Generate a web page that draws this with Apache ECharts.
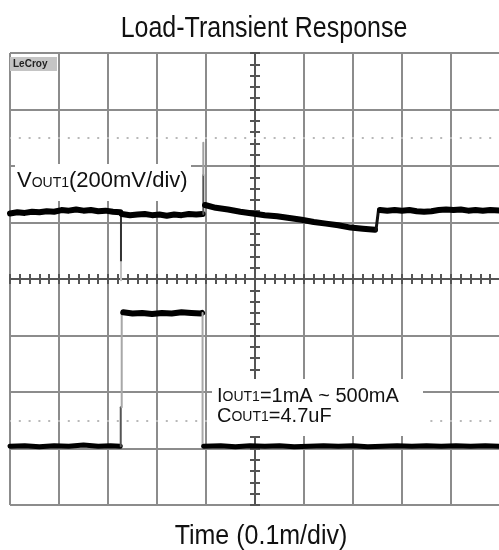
<!DOCTYPE html>
<html><head><meta charset="utf-8">
<script src="https://cdn.jsdelivr.net/npm/echarts@6/dist/echarts.min.js"></script>
<style>html,body{margin:0;padding:0;background:#fff}#c{width:499px;height:550px}</style>
</head><body><div id="c"></div>
<script>
// Texts
const chartTitle = 'Load-Transient Response';
const timeLabel = 'Time (0.1m/div)';
// Screen divisions (x: -5..5, y: -4..4 around screen centre)
const xDivs = [-5, 5];
const yDivs = [-4, 4];
const referenceLevels = [2.5, -2.5];

// VOUT1 trace (divisions)
const voutBefore = [[-5,1.16],[-4.85,1.18],[-4.7,1.17],[-4.55,1.19],[-4.4,1.18],[-4.25,1.2],[-4.1,1.19],[-3.95,1.22],[-3.8,1.21],[-3.65,1.23],[-3.5,1.21],[-3.35,1.22],[-3.2,1.2],[-3.05,1.21],[-2.9,1.19],[-2.75,1.18]];
const voutDip = [[-2.735,1.17],[-2.735,0.30]];
const voutDipTail = [[-2.735,0.30],[-2.735,-0.02]];
const voutLoaded = [[-2.72,1.15],[-2.55,1.13],[-2.4,1.14],[-2.25,1.15],[-2.1,1.13],[-1.95,1.14],[-1.8,1.12],[-1.65,1.14],[-1.5,1.13],[-1.35,1.15],[-1.2,1.14],[-1.07,1.15]];
const voutOvershoot = [[-1.055,1.15],[-1.055,1.84]];
const voutOvershootTip = [[-1.055,1.84],[-1.055,2.41]];
const voutRecovery = [[-1.02,1.31],[-0.8,1.26],[-0.55,1.23],[-0.3,1.19],[-0.05,1.16],[0.2,1.13],[0.45,1.11],[0.7,1.08],[0.95,1.05],[1.2,1.01],[1.45,0.98],[1.7,0.95],[1.95,0.91],[2.2,0.89],[2.45,0.87]];
const voutRelease = [[2.47,0.87],[2.52,1.22]];
const voutAfter = [[2.55,1.22],[2.7,1.21],[2.85,1.22],[3,1.21],[3.15,1.22],[3.3,1.2],[3.45,1.19],[3.6,1.2],[3.75,1.22],[3.9,1.23],[4.05,1.22],[4.2,1.23],[4.35,1.21],[4.5,1.22],[4.65,1.21],[4.8,1.22],[5,1.21]];

// IOUT1 trace (divisions)
const ioutIdleA = [[-5,-2.96],[-4.7,-2.95],[-4.4,-2.97],[-4.1,-2.95],[-3.8,-2.96],[-3.5,-2.94],[-3.2,-2.96],[-2.95,-2.95],[-2.75,-2.96]];
const ioutRiseLow = [[-2.74,-2.96],[-2.74,-2.27]];
const ioutRiseHigh = [[-2.72,-2.27],[-2.72,-0.6]];
const ioutLoad = [[-2.69,-0.59],[-2.5,-0.61],[-2.3,-0.6],[-2.1,-0.62],[-1.9,-0.6],[-1.7,-0.61],[-1.5,-0.59],[-1.3,-0.6],[-1.1,-0.61],[-1.08,-0.6]];
const ioutFall = [[-1.07,-0.6],[-1.07,-2.96]];
const ioutIdleB = [[-1.05,-2.96],[-0.7,-2.95],[-0.4,-2.97],[-0.1,-2.95],[0.2,-2.96],[0.5,-2.95],[0.8,-2.97],[1.1,-2.96],[1.4,-2.95],[1.7,-2.96],[2,-2.95],[2.3,-2.97],[2.6,-2.96],[2.9,-2.95],[3.2,-2.96],[3.5,-2.95],[3.8,-2.96],[4.1,-2.95],[4.4,-2.96],[4.7,-2.95],[5,-2.96]];

const FONT = 'Liberation Sans, Arial, sans-serif';
const gridColor = '#8c8c8c';
const axisColor = '#555';

function mkAxis(dim, idx, range) {
  const pos = dim === 'x' ? (idx === 0 ? 'bottom' : 'top') : (idx === 0 ? 'left' : 'right');
  return {
    type: 'value', min: range[0], max: range[1], interval: 1, position: pos,
    axisLabel: { show: false },
    splitLine: { show: idx === 0, lineStyle: { color: gridColor, width: 2 } },
    axisLine: { show: true, onZero: true, onZeroAxisIndex: 0, lineStyle: { color: axisColor, width: 2 } },
    axisTick: { show: true, inside: false, length: 5, lineStyle: { color: axisColor, width: 2 } },
    minorTick: { show: true, splitNumber: 5, length: 5, lineStyle: { color: axisColor, width: 2 } }
  };
}

function trace(data, color, width, z) {
  return { type: 'line', data: data, symbol: 'none', animation: false, silent: true, z: z || 3,
    lineStyle: { color: color, width: width, join: 'round', cap: 'round' } };
}

const series = [
  Object.assign(trace(voutBefore, '#000', 6), {
    markLine: { silent: true, symbol: 'none', label: { show: false }, animation: false,
      lineStyle: { type: [2, 7.8], dashOffset: 1, color: '#b8b8b8', width: 2 },
      data: referenceLevels.map(v => ({ yAxis: v })) }
  }),
  trace(voutDip, '#333', 2),
  trace(voutDipTail, '#c0c0c0', 2),
  trace(voutLoaded, '#000', 6),
  trace(voutOvershoot, '#555', 2),
  trace(voutOvershootTip, '#a0a0a0', 2),
  trace(voutRecovery, '#000', 6),
  trace(voutRelease, '#111', 3),
  trace(voutAfter, '#000', 6),
  trace(ioutIdleA, '#000', 5),
  trace(ioutRiseLow, '#555', 2),
  trace(ioutRiseHigh, '#a8a8a8', 2),
  trace(ioutLoad, '#000', 6),
  trace(ioutFall, '#a8a8a8', 2),
  trace(ioutIdleB, '#000', 5)
];

const chart = echarts.init(document.getElementById('c'));
chart.setOption({
  animation: false,
  backgroundColor: '#fff',
  grid: { left: 10, right: -1, top: 53, bottom: 45, outerBoundsMode: 'none', containLabel: false },
  xAxis: [mkAxis('x', 0, xDivs), mkAxis('x', 1, xDivs)],
  yAxis: [mkAxis('y', 0, yDivs), mkAxis('y', 1, yDivs)],
  series: series,
  graphic: [
    { type: 'text', z: 100, x: 264, y: 29, scaleY: 1.17, style: { text: chartTitle, font: '25px ' + FONT, fill: '#111', align: 'center', verticalAlign: 'middle' } },
    { type: 'text', z: 100, x: 261, y: 536, scaleY: 1.14, style: { text: timeLabel, font: '25px ' + FONT, fill: '#111', align: 'center', verticalAlign: 'middle' } },
    { type: 'rect', z: 100, shape: { x: 10, y: 57, width: 47, height: 14 }, style: { fill: '#c4c4c4' } },
    { type: 'text', z: 101, x: 13, y: 64, style: { text: 'LeCroy', font: 'bold 10px ' + FONT, fill: '#222', verticalAlign: 'middle' } },
    { type: 'rect', z: 100, shape: { x: 15, y: 164, width: 176, height: 37 }, style: { fill: '#fff' } },
    { type: 'text', z: 101, x: 17, y: 192, style: {
      text: '{b|V}{s|OUT1}{b|(200mV/div)}', verticalAlign: 'bottom',
      rich: { b: { font: '22px ' + FONT, fill: '#111', verticalAlign: 'bottom' }, s: { font: '14px ' + FONT, fill: '#111', verticalAlign: 'bottom', padding: [0,0,2,0] } } } },
    { type: 'rect', z: 100, shape: { x: 212, y: 379, width: 211, height: 57 }, style: { fill: '#fff' } },
    { type: 'text', z: 101, x: 217, y: 426, style: {
      text: '{b|I}{s|OUT1}{b|=1mA ~ 500mA}\n{b|C}{s|OUT1}{b|=4.7uF}', verticalAlign: 'bottom', lineHeight: 20,
      rich: { b: { font: '20px ' + FONT, fill: '#111', verticalAlign: 'bottom', lineHeight: 20 }, s: { font: '14px ' + FONT, fill: '#111', verticalAlign: 'bottom', lineHeight: 20, padding: [0,0,2,0] } } } }
  ]
});
</script></body></html>
